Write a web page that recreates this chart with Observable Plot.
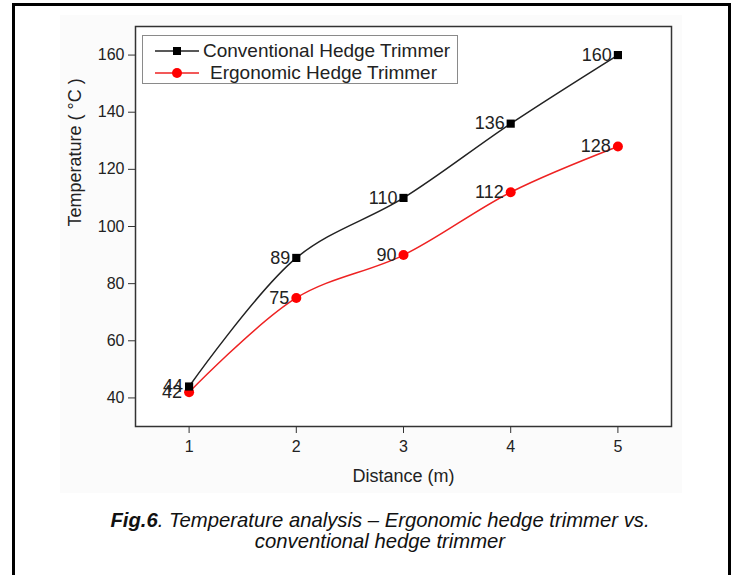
<!DOCTYPE html>
<html>
<head>
<meta charset="utf-8">
<script src="https://cdn.jsdelivr.net/npm/d3@7"></script>
<script src="https://cdn.jsdelivr.net/npm/@observablehq/plot@0.6"></script>
<style>
  html, body { margin: 0; padding: 0; background: #fff; overflow: hidden; }
  #wrap { position: relative; width: 733px; height: 575px; font-family: "Liberation Sans", Arial, sans-serif; }
  #border { position: absolute; left: 12px; top: 3px; width: 713px; height: 640px; border: 3px solid #000; box-sizing: content-box; }
  #bg { position: absolute; left: 60px; top: 15px; width: 622px; height: 478px; background: #fbfbfb; }
  #chart { position: absolute; left: 0; top: 0; }
  #legend { position: absolute; left: 142px; top: 35px; width: 314px; height: 47px; border: 1px solid #8a8a8a; background: #fff; }
  .lrow { position: absolute; left: 0; height: 22px; width: 314px; }
  .lrow svg { position: absolute; left: 12px; top: 0; }
  .lrow span { position: absolute; top: 0; font-size: 19px; line-height: 22px; color: #222; white-space: nowrap; }
  #caption { position: absolute; left: 30px; width: 700px; top: 510px; text-align: center; font-style: italic; font-size: 20.3px; line-height: 21px; color: #111; }
</style>
</head>
<body>
<div id="wrap">
  <div id="bg"></div>
  <div id="border"></div>
  <div id="chart"></div>
  <div id="legend"></div>
  <div id="caption"><b>Fig.6</b>. Temperature analysis – Ergonomic hedge trimmer vs.<br>conventional hedge trimmer</div>
</div>
<script>
const distances = [1, 2, 3, 4, 5];
const conventional = [44, 89, 110, 136, 160];
const ergonomic = [42, 75, 90, 112, 128];
const seriesNames = ["Conventional Hedge Trimmer", "Ergonomic Hedge Trimmer"];
const yTicks = [40, 60, 80, 100, 120, 140, 160];
const xLabel = "Distance (m)";
const yLabel = "Temperature ( °C )";

const conv = distances.map((d, i) => ({x: d, y: conventional[i]}));
const ergo = distances.map((d, i) => ({x: d, y: ergonomic[i]}));

const chart = Plot.plot({
  width: 733,
  height: 500,
  marginLeft: 135,
  marginRight: 62,
  marginTop: 26,
  marginBottom: 74,
  style: {background: "transparent", color: "#222", fontSize: "16px", fontFamily: "Liberation Sans, Arial, sans-serif"},
  x: {domain: [0.5, 5.5]},
  y: {domain: [30, 170]},
  marks: [
    Plot.frame({stroke: "#333", strokeWidth: 1.5, fill: "#fff"}),
    Plot.axisY({ticks: yTicks, tickSize: 7, tickPadding: 4, fontSize: 16, label: null, stroke: "#333", tickFormat: d3.format("d")}),
    Plot.axisX({ticks: distances, tickSize: 7, tickPadding: 7, fontSize: 16, label: null, stroke: "#333", tickFormat: d3.format("d")}),
    Plot.text([xLabel], {frameAnchor: "bottom", dy: 55, fontSize: 18, fill: "#222"}),
    Plot.text([yLabel], {frameAnchor: "left", dx: -60, rotate: -90, fontSize: 18, fill: "#222"}),
    Plot.line(ergo, {x: "x", y: "y", curve: "catmull-rom", stroke: "#ee2222", strokeWidth: 1.5}),
    Plot.line(conv, {x: "x", y: "y", curve: "catmull-rom", stroke: "#222", strokeWidth: 1.5}),
    Plot.dot(ergo, {x: "x", y: "y", r: 5, fill: "#ff0000", stroke: null}),
    Plot.dot(conv, {x: "x", y: "y", symbol: "square", r: 4.6, fill: "#000", stroke: null}),
    Plot.text(conv, {x: "x", y: "y", text: d => String(d.y), textAnchor: "end", dx: -6, fontSize: 18, fill: "#222"}),
    Plot.text(ergo, {x: "x", y: "y", text: d => String(d.y), textAnchor: "end", dx: -7, fontSize: 18, fill: "#222"})
  ]
});
// enlarge axis tick labels
d3.select(chart).selectAll('g[aria-label$="tick label"]').attr("font-size", 16).style("font-size", "16px");
d3.select(chart).selectAll('g[aria-label$="tick label"] text').attr("font-size", 16).style("font-size", "16px").attr("fill", "#222");
document.getElementById("chart").appendChild(chart);

// legend
const legend = document.getElementById("legend");
const styles = [
  {stroke: "#222", marker: "square", fill: "#000", top: 4, textLeft: 60},
  {stroke: "#ee2222", marker: "circle", fill: "#ff0000", top: 26, textLeft: 67}
];
seriesNames.forEach((name, i) => {
  const s = styles[i];
  const row = document.createElement("div");
  row.className = "lrow";
  row.style.top = s.top + "px";
  const mk = s.marker === "square"
    ? `<rect x="18" y="7" width="8" height="8" fill="${s.fill}"/>`
    : `<circle cx="22" cy="11" r="5" fill="${s.fill}"/>`;
  row.innerHTML = `<svg width="45" height="22"><line x1="0" x2="44" y1="11" y2="11" stroke="${s.stroke}" stroke-width="1.5"/>${mk}</svg><span style="left:${s.textLeft}px">${name}</span>`;
  legend.appendChild(row);
});
</script>
</body>
</html>
